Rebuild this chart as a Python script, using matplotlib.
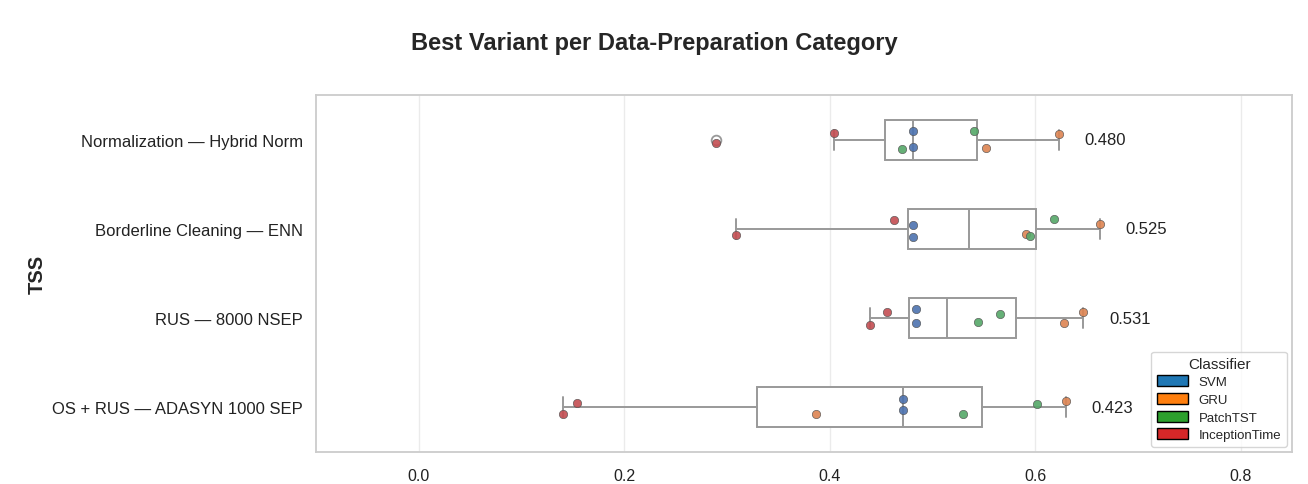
import numpy as np
import matplotlib.pyplot as plt
import matplotlib.patches as mpatches
import seaborn as sns

categories = ['Normalization — Hybrid Norm', 'Borderline Cleaning — ENN',
              'RUS — 8000 NSEP', 'OS + RUS — ADASYN 1000 SEP']
classifiers = ['SVM', 'GRU', 'PatchTST', 'InceptionTime']
# two TSS values per classifier, per category
svm       = [[0.481, 0.481], [0.481, 0.481], [0.484, 0.484], [0.471, 0.471]]
gru       = [[0.552, 0.623], [0.591, 0.663], [0.628, 0.647], [0.387, 0.630]]
patchtst  = [[0.470, 0.540], [0.595, 0.618], [0.544, 0.566], [0.530, 0.602]]
inception = [[0.289, 0.404], [0.309, 0.463], [0.439, 0.456], [0.140, 0.154]]

sns.set_style('whitegrid')
plt.rcParams['font.family'] = ['Liberation Sans', 'DejaVu Sans']

point_colors = ['#4C72B0', '#DD8452', '#55A868', '#C44E52']
legend_colors = ['#1f77b4', '#ff7f0e', '#2ca02c', '#d62728']
series = [svm, gru, patchtst, inception]

fig = plt.figure(figsize=(13.08, 4.85), dpi=100)
ax = fig.add_axes([0.2416, 0.066, 0.7462, 0.736])

pos = np.arange(len(categories))
allvals = [np.concatenate([np.array(s[i]) for s in series]) for i in pos]

ax.boxplot(allvals, positions=pos, widths=0.45, orientation='horizontal',
           patch_artist=True, whis=1.5,
           boxprops=dict(facecolor='white', edgecolor='#999999', linewidth=1.4),
           medianprops=dict(color='#999999', linewidth=1.4),
           whiskerprops=dict(color='#999999', linewidth=1.4),
           capprops=dict(color='#999999', linewidth=1.4),
           flierprops=dict(marker='o', markerfacecolor='white', markeredgecolor='#999999',
                           markersize=7, markeredgewidth=1.3),
           zorder=2)

# jitter: each pair gets one point below and one above the row centre
rng = np.random.default_rng(7)
for s, c in zip(series, point_colors):
    for i in pos:
        vals = np.array(s[i])
        y = i + np.array([1, -1]) * rng.uniform(0.03, 0.11, len(vals))
        ax.scatter(vals, y, s=36, color=c, edgecolor='#555555', linewidth=0.5,
                   alpha=0.9, zorder=3)

for i in pos:
    ax.text(allvals[i].max() + 0.025, i, f'{allvals[i].mean():.3f}',
            va='center', ha='left', fontsize=12, color='#222222')

ax.set_xlim(-0.1, 0.85)
ax.set_ylim(3.5, -0.5)
ax.set_yticks(pos)
ax.set_yticklabels(categories, fontsize=12, color='#222222')
ax.set_xticks([0.0, 0.2, 0.4, 0.6, 0.8])
ax.tick_params(axis='x', labelsize=11.5, colors='#222222', pad=8)
ax.tick_params(axis='y', pad=6)
ax.grid(axis='y', visible=False)
ax.grid(axis='x', color='#ebebeb', linewidth=1)
for sp in ax.spines.values():
    sp.set_color('#cccccc')
    sp.set_linewidth(1.3)
ax.set_ylabel('TSS', fontsize=14.5, fontweight='bold', labelpad=4)

handles = [mpatches.Patch(facecolor=c, edgecolor='black', label=l)
           for c, l in zip(legend_colors, classifiers)]
ax.legend(handles=handles, title='Classifier', loc='lower right', fontsize=9.5,
          title_fontsize=11, frameon=True, borderaxespad=0.4,
          handlelength=2.4, handleheight=0.9, labelspacing=0.35)

fig.suptitle('Best Variant per Data-Preparation Category', fontsize=17,
             fontweight='bold', y=0.935)
fig.savefig('out.png', dpi=100)
